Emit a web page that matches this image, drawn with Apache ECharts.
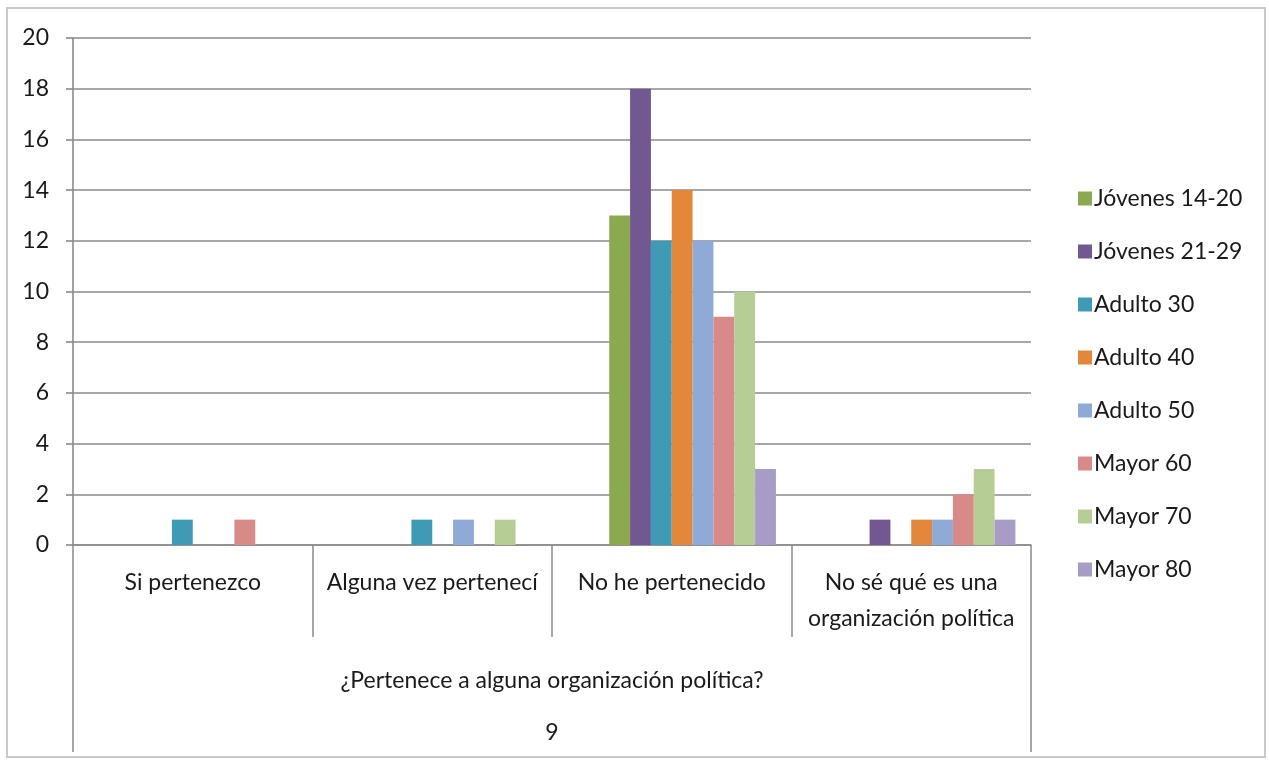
<!DOCTYPE html>
<html>
<head>
<meta charset="utf-8">
<title>¿Pertenece a alguna organización política?</title>
<script src="https://cdn.jsdelivr.net/npm/echarts@6/dist/echarts.min.js"></script>
<style>
  html, body { margin: 0; padding: 0; background: #ffffff; }
  #chart { position: absolute; left: 6px; top: 7px; width: 1260px; height: 751px;
           border: 2px solid #c9c9c9; box-sizing: border-box; }
</style>
</head>
<body>
<div id="chart"></div>
<script>
// Answer categories
const categories = [
  'Si pertenezco',
  'Alguna vez pertenecí',
  'No he pertenecido',
  'No sé qué es una\norganización política'
];
const groupTitle = '¿Pertenece a alguna organización política?';
const groupNumber = '9';

// Age groups
const seriesNames = [
  'Jóvenes 14-20', 'Jóvenes 21-29', 'Adulto 30', 'Adulto 40',
  'Adulto 50', 'Mayor 60', 'Mayor 70', 'Mayor 80'
];

// Counts per answer category, one array per age group
const jovenes1420 = [0, 0, 13, 0];
const jovenes2129 = [0, 0, 18, 1];
const adulto30    = [1, 1, 12, 0];
const adulto40    = [0, 0, 14, 1];
const adulto50    = [0, 1, 12, 1];
const mayor60     = [1, 0, 9, 2];
const mayor70     = [0, 1, 10, 3];
const mayor80     = [0, 0, 3, 1];
const seriesValues = [jovenes1420, jovenes2129, adulto30, adulto40,
                      adulto50, mayor60, mayor70, mayor80];

// Two empty columns of the worksheet occupy the first slots of every group
const emptyColumn = [null, null, null, null];

// Y axis ticks
const yMin = 0, yMax = 20, yStep = 2;

const colors = ['#8BA94E', '#715890', '#3E9AB5', '#E3873B',
                '#8FAAD7', '#D88A88', '#B6CD96', '#A79CC5'];

const FONT = 'Lato';
const TEXT_COLOR = '#1a1a1a';
const GRID_COLOR = '#8a8a8a';

const chart = echarts.init(document.getElementById('chart'), null, { renderer: 'canvas' });

const series = [
  { type: 'bar', data: emptyColumn, silent: true },
  { type: 'bar', data: emptyColumn, silent: true }
].concat(seriesNames.map((name, i) => ({
  name: name,
  type: 'bar',
  data: seriesValues[i],
  itemStyle: { color: colors[i] }
})));
series.forEach(s => { s.barGap = '0%'; s.barCategoryGap = '13%'; });

chart.setOption({
  animation: false,
  backgroundColor: '#ffffff',
  textStyle: { fontFamily: FONT },
  grid: { left: 65, right: 233, top: 29, bottom: 211, containLabel: false, outerBoundsMode: 'none' },
  legend: {
    data: seriesNames,
    orient: 'vertical',
    left: 1065,
    top: 173,
    itemWidth: 14,
    itemHeight: 14,
    itemGap: 30,
    icon: 'rect',
    textStyle: { fontFamily: FONT, fontSize: 23, lineHeight: 23, color: TEXT_COLOR, padding: [0, 0, 0, -3] }
  },
  xAxis: [
    {
      type: 'category',
      data: categories,
      position: 'bottom',
      axisLine: { show: true, lineStyle: { color: GRID_COLOR, width: 1.6 } },
      axisTick: { show: true, interval: 0, length: 92, lineStyle: { color: GRID_COLOR, width: 1.5 } },
      axisLabel: {
        interval: 0, margin: 20, color: TEXT_COLOR,
        fontFamily: FONT, fontSize: 23, lineHeight: 36
      },
      splitLine: { show: false }
    },
    {
      type: 'category',
      data: [groupTitle + '\n' + groupNumber],
      position: 'bottom',
      axisLine: { show: false },
      axisTick: { show: true, length: 207, lineStyle: { color: GRID_COLOR, width: 1.5 } },
      axisLabel: {
        margin: 110, color: TEXT_COLOR,
        fontFamily: FONT, fontSize: 23, lineHeight: 52
      },
      splitLine: { show: false }
    }
  ],
  yAxis: {
    type: 'value',
    min: yMin, max: yMax, interval: yStep,
    axisLine: { show: true, lineStyle: { color: GRID_COLOR, width: 1.6 } },
    axisTick: { show: true, length: 7, lineStyle: { color: GRID_COLOR, width: 1.6 } },
    axisLabel: { margin: 24, color: TEXT_COLOR, fontFamily: FONT, fontSize: 23 },
    splitLine: { show: true, lineStyle: { color: GRID_COLOR, width: 1.6 } }
  },
  series: series
});
</script>
</body>
</html>
